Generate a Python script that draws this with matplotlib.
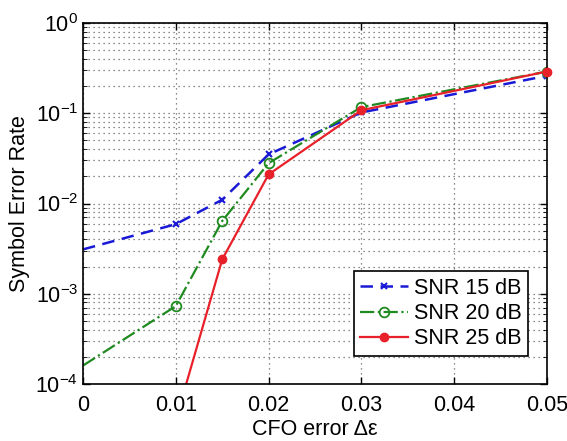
import matplotlib.pyplot as plt
from matplotlib.ticker import LogLocator, NullFormatter

plt.rcParams['font.family'] = ['Liberation Sans', 'DejaVu Sans']

# CFO error values (x) and symbol error rates
cfo = [0.0, 0.01, 0.015, 0.02, 0.03, 0.05]
ser_15 = [3.1e-3, 5.9e-3, 1.1e-2, 3.5e-2, 1.02e-1, 2.6e-1]
ser_20 = [1.6e-4, 7.3e-4, 6.4e-3, 2.8e-2, 1.17e-1, 2.9e-1]
ser_25 = [4.0e-5, 4.0e-5, 2.4e-3, 2.1e-2, 1.08e-1, 2.9e-1]
labels = ['SNR 15 dB', 'SNR 20 dB', 'SNR 25 dB']

fs = 15.5

fig = plt.figure(figsize=(5.67, 4.41), dpi=100)
ax = fig.add_axes([83 / 567, 1 - 384 / 441, 464 / 567, 361 / 441])

ax.semilogy(cfo, ser_15, '--', color='#1a1ad6', lw=1.8, marker='x', ms=5,
            mew=1.5, markevery=[1, 2, 3, 4, 5], label=labels[0], dashes=(5, 3))
ax.semilogy(cfo, ser_20, '-.', color='#1f8a1f', lw=1.6, marker='o', ms=7,
            mfc='none', mew=1.3, markevery=[1, 2, 3, 4, 5], label=labels[1])
ax.semilogy(cfo, ser_25, '-', color='#e8202a', lw=1.6, marker='o', ms=6,
            markevery=[2, 3, 4, 5], label=labels[2])
# last markers sit on the right spine and are drawn unclipped
ax.semilogy(cfo[-1:], ser_25[-1:], 'o', color='#e8202a', ms=6, clip_on=False,
            zorder=5)

ax.set_xlim(0, 0.05)
ax.set_ylim(1e-4, 1)
ax.set_xticks([0, 0.01, 0.02, 0.03, 0.04, 0.05])
ax.set_xticklabels(['0', '0.01', '0.02', '0.03', '0.04', '0.05'])
ax.yaxis.set_minor_locator(LogLocator(base=10, subs=range(2, 10)))
ax.yaxis.set_minor_formatter(NullFormatter())
ax.tick_params(which='both', direction='in', top=True, right=True, labelsize=fs)
ax.tick_params(which='major', length=5, width=1)
ax.tick_params(which='minor', length=3)
ax.tick_params(axis='x', pad=8)
ax.grid(True, which='major', ls=(0, (1, 3)), color='#666666', lw=0.9)
ax.grid(True, which='minor', axis='y', ls=(0, (1, 3)), color='#666666', lw=0.9)
for s in ax.spines.values():
    s.set_linewidth(1.2)

ax.set_xlabel('CFO error Δε', fontsize=fs, labelpad=2)
ax.set_ylabel('Symbol Error Rate', fontsize=fs, labelpad=4)

leg = ax.legend(loc='lower right', bbox_to_anchor=(0.96, 0.078), fontsize=fs,
                fancybox=False, framealpha=1, edgecolor='black',
                handlelength=2.2, borderpad=0.3, labelspacing=0.2,
                handletextpad=0.3, borderaxespad=0)
leg.get_frame().set_linewidth(1.2)

fig.savefig('out.png', dpi=100)
